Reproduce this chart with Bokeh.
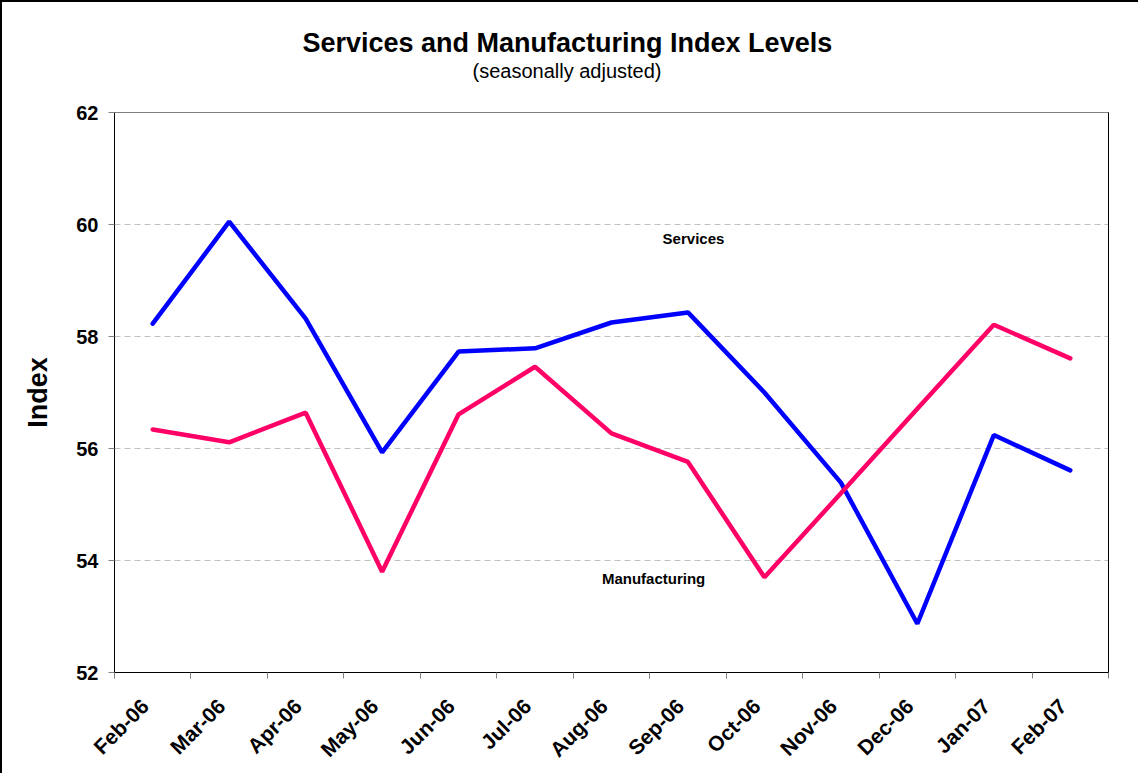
import math
from bokeh.plotting import figure
from bokeh.models import FixedTicker, LinearAxis, Label, Range1d, Title, Grid
from bokeh.embed import file_html
from bokeh.resources import INLINE

months = ["Feb-06", "Mar-06", "Apr-06", "May-06", "Jun-06", "Jul-06", "Aug-06",
          "Sep-06", "Oct-06", "Nov-06", "Dec-06", "Jan-07", "Feb-07"]
services = [58.23, 60.05, 58.32, 55.93, 57.73, 57.79, 58.25, 58.43, 57.00, 55.39, 52.87, 56.24, 55.61]
manufacturing = [56.34, 56.11, 56.64, 53.80, 56.61, 57.46, 56.27, 55.76, 53.70, 55.20, 56.71, 58.21, 57.61]
y_ticks = [52, 54, 56, 58, 60, 62]

xpos = [i + 0.5 for i in range(len(months))]
label_pos = [x - 0.1 for x in xpos]

FONT = "Liberation Sans"

p = figure(width=1138, height=773, output_backend="svg", toolbar_location=None,
           x_range=Range1d(0, len(months)), y_range=Range1d(52, 62),
           min_border_left=114, min_border_right=30, min_border_top=112, min_border_bottom=101,
           x_axis_type=None, y_axis_type=None)
p.border_fill_color = None
p.background_fill_color = "white"
p.styles = {"box-shadow": "inset 2px 2px 0 0 black", "background-color": "white"}
p.outline_line_color = "#808080"
p.outline_line_width = 1

# titles (first added = closest to plot)
p.add_layout(Title(text=" ", text_font_size="8px", standoff=20), "above")
p.add_layout(Title(text="(seasonally adjusted)", text_font=FONT, text_font_size="20px",
                   text_font_style="normal", text_color="black", align="left", offset=358,
                   standoff=0), "above")
p.add_layout(Title(text="Services and Manufacturing Index Levels", text_font=FONT,
                   text_font_size="27px", text_font_style="bold", text_color="black",
                   align="left", offset=188, standoff=0), "above")

# x axis
xaxis = LinearAxis(ticker=FixedTicker(ticks=label_pos, minor_ticks=list(range(len(months) + 1))))
xaxis.major_label_overrides = {x: m for x, m in zip(label_pos, months)}
xaxis.major_label_orientation = math.pi / 4
xaxis.major_tick_out = 0
xaxis.major_tick_in = 0
xaxis.minor_tick_out = 6
xaxis.minor_tick_in = 0
xaxis.minor_tick_line_color = "#808080"
xaxis.axis_line_color = "black"
xaxis.major_label_text_font = FONT
xaxis.major_label_text_font_style = "bold"
xaxis.major_label_text_font_size = "21px"
xaxis.major_label_text_color = "black"
xaxis.major_label_standoff = 24
p.add_layout(xaxis, "below")

# y axis
yaxis = LinearAxis(ticker=FixedTicker(ticks=y_ticks, minor_ticks=[]))
yaxis.axis_label = "Index"
yaxis.axis_label_text_font = FONT
yaxis.axis_label_text_font_style = "bold"
yaxis.axis_label_text_font_size = "27px"
yaxis.axis_label_text_color = "black"
yaxis.axis_label_standoff = 20
yaxis.major_tick_out = 6
yaxis.major_tick_in = 0
yaxis.major_tick_line_color = "#808080"
yaxis.minor_tick_out = 0
yaxis.axis_line_color = "black"
yaxis.major_label_text_font = FONT
yaxis.major_label_text_font_style = "bold"
yaxis.major_label_text_font_size = "20px"
yaxis.major_label_text_color = "black"
yaxis.major_label_standoff = 10
p.add_layout(yaxis, "left")

# right border of plot area
raxis = LinearAxis(ticker=FixedTicker(ticks=[]), axis_line_color="black",
                   major_tick_out=0, minor_tick_out=0, major_label_text_font_size="0px")
p.add_layout(raxis, "right")

p.xgrid.visible = False
p.ygrid.visible = False
grid = Grid(dimension=1, ticker=FixedTicker(ticks=y_ticks), grid_line_color="#c0c0c0",
            grid_line_dash="6 4", grid_line_width=1)
p.add_layout(grid)

p.line(xpos, services, line_color="#0000FF", line_width=4.5, line_cap="round")
p.line(xpos, manufacturing, line_color="#FF0066", line_width=4.5, line_cap="round")

p.add_layout(Label(x=7.572, y=59.75, text="Services", text_font=FONT, text_font_style="bold",
                   text_font_size="15px", text_align="center", text_baseline="middle",
                   text_color="black"))
p.add_layout(Label(x=7.05, y=53.68, text="Manufacturing", text_font=FONT, text_font_style="bold",
                   text_font_size="15px", text_align="center", text_baseline="middle",
                   text_color="black"))

open("out.html", "w").write(file_html(p, INLINE))
